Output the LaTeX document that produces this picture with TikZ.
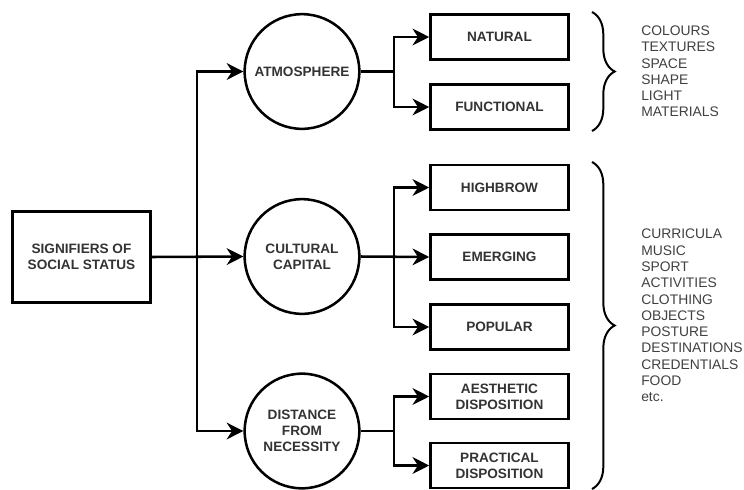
\documentclass[tikz,border=0pt]{standalone}
\usepackage{fontspec}
\setmainfont{Liberation Sans}
\usetikzlibrary{arrows.meta,decorations.pathreplacing}

\tikzset{
  box/.style={draw,line width=1.9pt,minimum width=103.5pt,minimum height=34pt,align=center,
    font=\fontsize{10.2}{11.8}\selectfont\bfseries,text=black!80},
  circ/.style={draw,circle,line width=1.9pt,minimum size=86pt,inner sep=0pt,align=center,
    font=\fontsize{10.2}{11.8}\selectfont\bfseries,text=black!80},
  link/.style={line width=1.9pt},
  arrow/.style={link,-{Stealth[length=12.5pt,width=12.5pt,inset=4pt]}},
  bracket/.style={line width=1.5pt,decorate,decoration={brace,amplitude=17pt}},
  list/.style={anchor=west,inner sep=0pt,align=left,text=black!75,
    font=\fontsize{10.4}{12.2}\selectfont}
}

\begin{document}
\begin{tikzpicture}[x=0.75pt,y=-0.75pt]
        \useasboundingbox (0,0) rectangle (744,490);

        % Root and the three circles
        \node[box,minimum height=68.5pt] (sig) at (81.5,257) {SIGNIFIERS OF\\SOCIAL STATUS};
        \node[circ] (atmo) at (302,71.5) {ATMOSPHERE};
        \node[circ] (cult) at (302,256.5) {CULTURAL\\CAPITAL};
        \node[circ] (dist) at (302,431) {DISTANCE\\FROM\\NECESSITY};

        % Boxes on the right
        \node[box] (natural) at (499.5,37) {NATURAL};
        \node[box] (functional) at (499.5,107) {FUNCTIONAL};
        \node[box] (highbrow) at (499.5,187.5) {HIGHBROW};
        \node[box] (emerging) at (499.5,257) {EMERGING};
        \node[box] (popular) at (499.5,327) {POPULAR};
        \node[box] (aesthetic) at (499.5,396.5) {AESTHETIC\\DISPOSITION};
        \node[box] (practical) at (499.5,465.5) {PRACTICAL\\DISPOSITION};

        % Split points
        \coordinate (trunk) at (197,257);
        \coordinate (atmosplit) at (394,71.5);
        \coordinate (cultsplit) at (394,257);
        \coordinate (distsplit) at (394,431);

        % Root to circles
        \draw[arrow] (sig.east) -- (cult.west);
        \draw[arrow] (trunk) |- (atmo.west);
        \draw[arrow] (trunk) |- (dist.west);

        % Circles to boxes
        \draw[link] (atmo.east) -- (atmosplit);
        \draw[arrow] (atmosplit) |- (natural.west);
        \draw[arrow] (atmosplit) |- (functional.west);
        \draw[arrow] (cult.east) -- (emerging.west);
        \draw[arrow] (cultsplit) |- (highbrow.west);
        \draw[arrow] (cultsplit) |- (popular.west);
        \draw[link] (dist.east) -- (distsplit);
        \draw[arrow] (distsplit) |- (aesthetic.west);
        \draw[arrow] (distsplit) |- (practical.west);

        % Braces
        \draw[bracket] (592,12) -- (592,131);
        \draw[bracket] (592,162) -- (592,489);

        % Lists
        \node[list] (atmolist) at (641,71.5) {COLOURS\\TEXTURES\\SPACE\\SHAPE\\LIGHT\\MATERIALS};
        \node[list] (cultlist) at (641,315.5) {CURRICULA\\MUSIC\\SPORT\\ACTIVITIES\\CLOTHING\\OBJECTS\\POSTURE\\DESTINATIONS\\CREDENTIALS\\FOOD\\etc.};
      \end{tikzpicture}
\end{document}
